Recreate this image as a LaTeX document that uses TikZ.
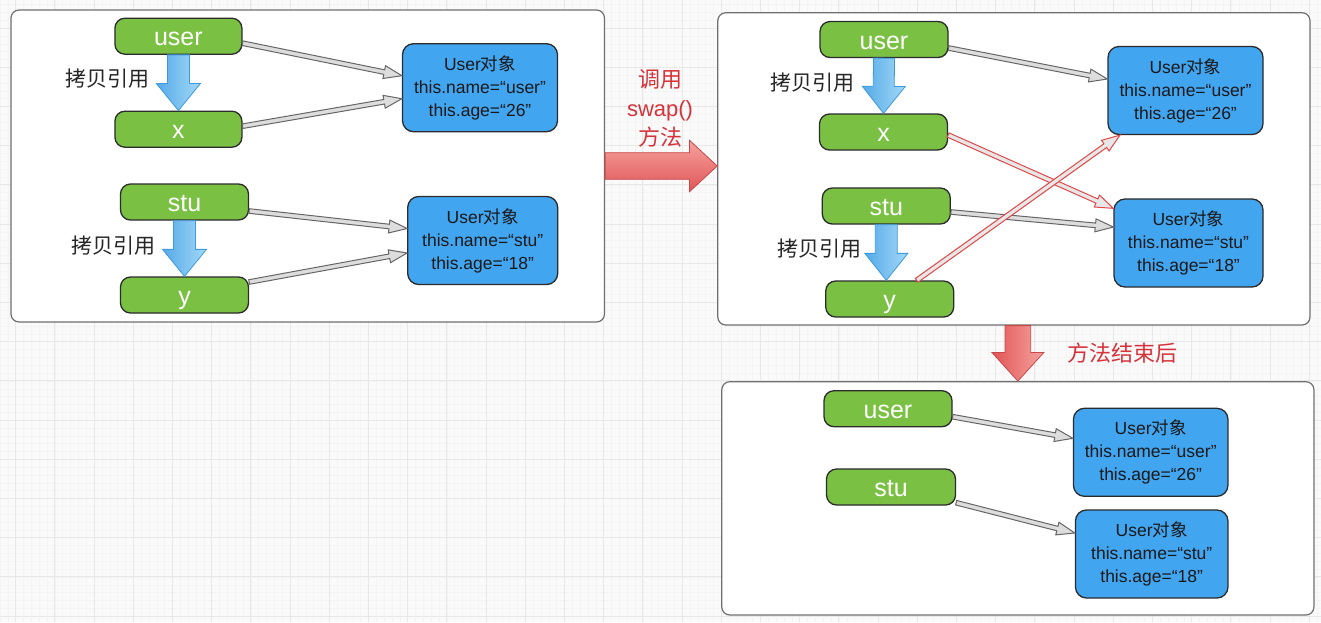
\documentclass[tikz,border=0pt]{standalone}
\usepackage{fontspec}
\setmainfont{Liberation Sans}
\newfontfamily\cjk{Noto Sans CJK SC}
\usepackage{tikz}
\usetikzlibrary{calc}
\definecolor{gridminor}{HTML}{F4F4F4}
\definecolor{gridmajor}{HTML}{E8E8E8}
\definecolor{panelgray}{HTML}{6F6F6F}
\definecolor{vargreen}{HTML}{7AC143}
\definecolor{objblue}{HTML}{42A5F0}
\definecolor{edgedark}{HTML}{2B2B2B}
\definecolor{linkgray}{HTML}{666666}
\definecolor{linkfill}{HTML}{DDDDDD}
\definecolor{swapred}{HTML}{E04848}
\definecolor{labelred}{HTML}{D6333B}
\definecolor{bluedark}{HTML}{55AAE8}
\definecolor{bluelight}{HTML}{A3D8F8}
\definecolor{blueedge}{HTML}{3D9BDD}
\definecolor{reddark}{HTML}{E05656}
\definecolor{redlight}{HTML}{F6A29E}
\definecolor{rededge}{HTML}{C8484A}

\newcommand\arrowshape[6][]{%
  \coordinate (asA) at #2;
  \coordinate (asB) at #3;
  \coordinate (asC) at ($(asB)!#6!(asA)$);
  \draw[#1] ($(asA)!#4!90:(asB)$) -- ($(asC)!#4!-90:(asA)$) -- ($(asC)!#5!-90:(asA)$)
    -- (asB) -- ($(asC)!#5!90:(asA)$) -- ($(asC)!#4!90:(asA)$) -- ($(asA)!#4!-90:(asB)$) -- cycle;
}

\begin{document}
\begin{tikzpicture}[x=1pt,y=-1pt,
  panel/.style={draw=panelgray, fill=white, rounded corners=8pt, line width=1.2pt,
    inner sep=0pt},
  var/.style={draw=edgedark, fill=vargreen, rounded corners=10pt, line width=1.3pt,
    minimum width=128pt, minimum height=36pt, inner sep=0pt, text=white,
    font=\fontsize{25}{30}\selectfont, text height=19pt, text depth=0pt},
  obj/.style={draw=edgedark, fill=objblue, rounded corners=11pt, line width=1.3pt,
    minimum height=88pt, inner sep=0pt, align=center, text=black!90,
    font=\fontsize{17.5}{23}\selectfont},
  copylabel/.style={text=black!85, font=\cjk\fontsize{21}{25}\selectfont},
  redlabel/.style={text=labelred, align=center, font=\fontsize{22}{29}\selectfont},
  link/.style={draw=linkgray, fill=linkfill, line width=1pt},
  swaplink/.style={draw=swapred, fill=linkfill!70!white, line width=1pt},
  copyarrow/.style={draw=blueedge, left color=bluedark, right color=bluelight, line width=0.8pt},
  steparrow/.style={draw=rededge, line width=0.8pt}]
  \useasboundingbox (0,0) rectangle (1321,622);
  \fill[white!98!black] (0,0) rectangle (1321,622);
  \begin{scope}
    \clip (0,0) rectangle (1321,622);
    \foreach \i in {0,...,170}
      \draw[gridminor, line width=0.5pt] ({0.02+7.84*\i},0) -- ({0.02+7.84*\i},622);
    \foreach \i in {0,...,80}
      \draw[gridminor, line width=0.5pt] (0,{-11.1+7.84*\i}) -- (1321,{-11.1+7.84*\i});
    \foreach \i in {0,...,33}
      \draw[gridmajor, line width=1pt] ({15.7+39.2*\i},0) -- ({15.7+39.2*\i},622);
    \foreach \i in {0,...,15}
      \draw[gridmajor, line width=1pt] (0,{28.1+39.2*\i}) -- (1321,{28.1+39.2*\i});
  \end{scope}

  \node[panel, minimum width=593.5pt, minimum height=312pt] (p1) at (307.75,166) {};
  \node[panel, minimum width=592.2pt, minimum height=312.3pt] (p2) at (1013.9,168.85) {};
  \node[panel, minimum width=592.1pt, minimum height=233.3pt] (p3) at (1017.85,498.35) {};

  \node[var, minimum width=127pt] (user1) at (178.4,36.2) {user};
  \node[var, minimum width=127pt] (x1) at (178.4,129.2) {x};
  \node[var] (stu1) at (184.5,202) {stu};
  \node[var] (y1) at (184.5,295) {y};
  \node[obj, minimum width=155pt] (obj1a) at (480,87.7)
    {User{\cjk 对象}\\this.name=“user”\\this.age=“26”};
  \node[obj, minimum width=150pt] (obj1b) at (482.7,240.5)
    {User{\cjk 对象}\\this.name=“stu”\\this.age=“18”};
  \node[copylabel] (cp1) at (107,79) {拷贝引用};
  \node[copylabel] (cp2) at (113.5,246) {拷贝引用};

  \node[var] (user2) at (884,39.5) {user};
  \node[var] (x2) at (883.5,132) {x};
  \node[var] (stu2) at (886.3,206) {stu};
  \node[var] (y2) at (889.7,299) {y};
  \node[obj, minimum width=155pt] (obj2a) at (1185.5,90.5)
    {User{\cjk 对象}\\this.name=“user”\\this.age=“26”};
  \node[obj, minimum width=149pt] (obj2b) at (1188.5,243)
    {User{\cjk 对象}\\this.name=“stu”\\this.age=“18”};
  \node[copylabel] (cp3) at (812.5,82.7) {拷贝引用};
  \node[copylabel] (cp4) at (819,249) {拷贝引用};

  \node[var] (user3) at (888,408.7) {user};
  \node[var, minimum width=129pt] (stu3) at (891,487) {stu};
  \node[obj, minimum width=154.5pt] (obj3a) at (1150.7,452.3)
    {User{\cjk 对象}\\this.name=“user”\\this.age=“26”};
  \node[obj, minimum width=152.5pt] (obj3b) at (1151.7,554)
    {User{\cjk 对象}\\this.name=“stu”\\this.age=“18”};

  \node[redlabel] (calllabel) at (660,108) {{\cjk 调用}\\swap()\\{\cjk 方法}};
  \node[redlabel] (afterlabel) at (1122.5,352.7) {\cjk 方法结束后};

  \arrowshape[copyarrow]{(user1.south)}{(x1.north)}{11pt}{22pt}{27pt}
  \arrowshape[copyarrow]{(stu1.south)}{(y1.north)}{11pt}{22pt}{27pt}
  \arrowshape[copyarrow]{(user2.south)}{(x2.north)}{10.5pt}{21.5pt}{27pt}
  \arrowshape[copyarrow]{(stu2.south)}{(stu2.south |- y2.north)}{11pt}{21.5pt}{27pt}

  \arrowshape[link]{([yshift=-7pt]user1.east)}{([yshift=12pt]obj1a.west)}{2.3pt}{6.5pt}{18pt}
  \arrowshape[link]{([yshift=3pt]x1.east)}{([yshift=-11pt]obj1a.west)}{2.3pt}{6.5pt}{18pt}
  \arrowshape[link]{([yshift=-9pt]stu1.east)}{([yshift=12pt]obj1b.west)}{2.3pt}{6.5pt}{18pt}
  \arrowshape[link]{([yshift=13pt]y1.east)}{([yshift=-12.5pt]obj1b.west)}{2.3pt}{6.5pt}{18pt}

  \arrowshape[link]{([yshift=-8.5pt]user2.east)}{([yshift=11.5pt]obj2a.west)}{2.3pt}{6.5pt}{18pt}
  \arrowshape[link]{([yshift=-6pt]stu2.east)}{([yshift=16pt]obj2b.west)}{2.3pt}{6.5pt}{18pt}
  \arrowshape[swaplink]{([yshift=-3pt]x2.east)}{([yshift=-10pt]obj2b.north west)}{2.3pt}{6.5pt}{18pt}
  \arrowshape[swaplink]{([xshift=27pt]y2.north)}{([xshift=12.6pt]obj2a.south west)}{2.3pt}{6.5pt}{18pt}

  \arrowshape[link]{([yshift=-8pt]user3.east)}{([yshift=14pt]obj3a.west)}{2.3pt}{6.5pt}{18pt}
  \arrowshape[link]{([yshift=-15.7pt]stu3.east)}{([yshift=21pt]obj3b.west)}{2.3pt}{6.5pt}{18pt}

  \arrowshape[steparrow, top color=redlight, bottom color=reddark]
    {(p1.east)}{(p1.east -| p2.west)}{13.3pt}{25.7pt}{27.7pt}
  \arrowshape[steparrow, left color=reddark, right color=redlight]
    {(p2.south -| p3.north)}{(p3.north)}{12.8pt}{26pt}{28.7pt}
\end{tikzpicture}
\end{document}
